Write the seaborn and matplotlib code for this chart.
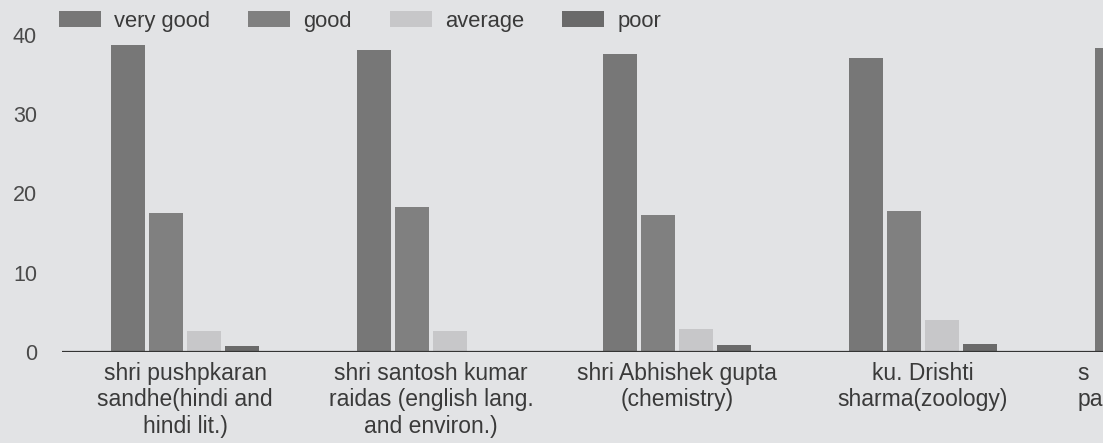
import matplotlib
matplotlib.use("Agg")
import matplotlib.pyplot as plt
import numpy as np
import pandas as pd
import seaborn as sns

# Teachers (x categories) and rating levels (hue)
teachers = [
    "shri pushpkaran\nsandhe(hindi and\nhindi lit.)",
    "shri santosh kumar\nraidas (english lang.\nand environ.)",
    "shri Abhishek gupta\n(chemistry)",
    "ku. Drishti\nsharma(zoology)",
    "s\npa",
]
ratings = ["very good", "good", "average", "poor"]

# Number of responses per rating
very_good = [38.7, 38.1, 37.6, 37.1, 38.3]
good = [17.6, 18.3, 17.3, 17.8, np.nan]
average = [2.7, 2.6, 2.9, 4.1, np.nan]
poor = [0.8, 0.0, 0.9, 1.0, np.nan]

y_ticks = [0, 10, 20, 30, 40]

series = {"very good": very_good, "good": good, "average": average, "poor": poor}
rows = []
for rating in ratings:
    for teacher, value in zip(teachers, series[rating]):
        if not np.isnan(value):
            rows.append({"teacher": teacher, "rating": rating, "value": value})
df = pd.DataFrame(rows)

bg = "#e2e3e5"
text_color = "#3a3a3a"
palette = {
    "very good": "#777777",
    "good": "#808080",
    "average": "#c7c7c9",
    "poor": "#6a6a6a",
}

sns.set_style("white", rc={"axes.facecolor": bg, "figure.facecolor": bg})
plt.rcParams["font.family"] = ["Liberation Sans", "DejaVu Sans"]

fig = plt.figure(figsize=(11.03, 4.43), dpi=100)
# plot area runs past the right edge of the figure
ax = fig.add_axes([62 / 1103, 91 / 443, 1230 / 1103, 317 / 443])

sns.barplot(
    data=df, x="teacher", y="value", hue="rating",
    order=teachers, hue_order=ratings, palette=palette,
    width=0.62, gap=0.1, saturation=1, errorbar=None,
    linewidth=0, ax=ax,
)

ax.set_xlim(-0.5, len(teachers) - 0.5)
ax.set_ylim(0, 40)
ax.set_yticks(y_ticks)
ax.set_yticklabels([str(t) for t in y_ticks])
ax.set_xticks(range(len(teachers)))
ax.set_xticklabels(teachers[:-1] + [""])
ax.set_xlabel("")
ax.set_ylabel("")
for s in ax.spines.values():
    s.set_visible(False)
ax.axhline(0, color="#343434", lw=1.6, zorder=5)

ax.tick_params(axis="y", length=0, pad=18, labelsize=15.5, labelcolor="#4a4a4a")
ax.tick_params(axis="x", length=0, pad=7, labelsize=16.5, labelcolor=text_color)

# label of the last group, which sits against the figure edge
ax.annotate(
    teachers[-1], xy=(len(teachers) - 1 - 0.31, 0),
    xycoords=("data", "axes fraction"), xytext=(-11, -7),
    textcoords="offset points", ha="left", va="top",
    fontsize=16.5, color=text_color, linespacing=1.2,
)

handles, labels = ax.get_legend_handles_labels()
ax.get_legend().remove()
fig.legend(
    handles, labels, loc="center left",
    bbox_to_anchor=(59 / 1103, 1 - 21 / 443), bbox_transform=fig.transFigure,
    ncol=4, frameon=False, fontsize=15.8, labelcolor=text_color,
    handlelength=1.9, handleheight=0.75, handletextpad=0.6,
    columnspacing=1.75, borderpad=0, borderaxespad=0,
)

fig.savefig("out.png", dpi=100, facecolor=bg)
